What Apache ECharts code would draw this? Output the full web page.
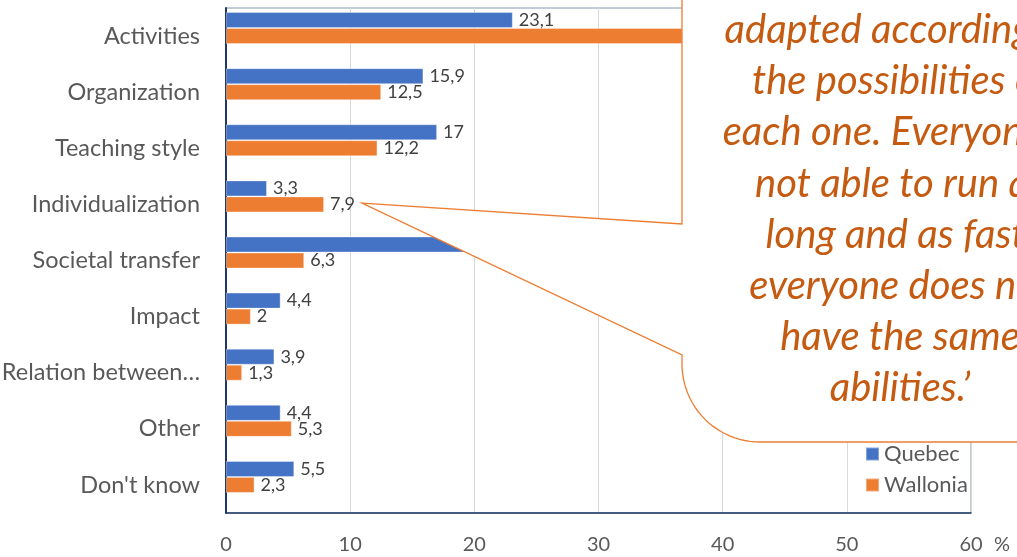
<!DOCTYPE html>
<html>
<head>
<meta charset="utf-8">
<script src="https://cdn.jsdelivr.net/npm/echarts@6/dist/echarts.min.js"></script>
<style>
html,body{margin:0;padding:0;background:#fff;}
#c{width:1017px;height:557px;}
</style>
</head>
<body>
<div id="c"></div>
<script>
const categories = ['Activities','Organization','Teaching style','Individualization','Societal transfer','Impact','Relation between…','Other',"Don't know"];
const quebec = [23.1, 15.9, 17, 3.3, 24.0, 4.4, 3.9, 4.4, 5.5];
const wallonia = [40.0, 12.5, 12.2, 7.9, 6.3, 2, 1.3, 5.3, 2.3];
const blank = [null, null, null, null, null, null, null, null, null];
const xTicks = {min: 0, max: 60, interval: 10};
const calloutLines = ['adapted according to','the possibilities of','each one. Everyone is','not able to run as','long and as fast,','everyone does not','have the same','abilities.\u2019'];

const FONT = 'Lato';
const chart = echarts.init(document.getElementById('c'), null, {renderer:'canvas'});

// callout outline (decorative shape)
const pts = [[682,-20],[682,224],[362,203],[682,355],[682,364]];
const cx = 760, cy = 364, r = 78;
for (let i = 0; i <= 24; i++) {
  const a = Math.PI - (Math.PI/2) * (i/24);
  pts.push([cx + r*Math.cos(a), cy + r*Math.sin(a)]);
}
pts.push([1040,442],[1040,-20]);

const textEls = calloutLines.map((t, i) => ({
  type: 'text', z: 101,
  x: 900, y: 30 + 51.2*i,
  style: {text: t, fill: '#C55A11', font: 'italic 40px ' + FONT, align: 'center', verticalAlign: 'middle'}
}));

const lbl = {show: true, position: 'right', distance: 6, color: '#404040', fontSize: 18, fontFamily: FONT,
  formatter: p => String(p.value).replace('.', ',')};

chart.setOption({
  animation: false,
  textStyle: {fontFamily: FONT},
  grid: {left: 226, right: 46, top: 8, bottom: 44, show: true, borderColor: '#8497B0', borderWidth: 1,
    containLabel: false, outerBoundsMode: 'none'},
  legend: {
    data: ['Quebec','Wallonia'], orient: 'vertical', left: 860, top: 438,
    itemWidth: 13, itemHeight: 13, itemGap: 9, icon: 'rect',
    textStyle: {fontSize: 22, color: '#595959', fontFamily: FONT}
  },
  xAxis: {
    type: 'value', min: xTicks.min, max: xTicks.max, interval: xTicks.interval,
    axisLine: {show: true, lineStyle: {color: '#1F3864', width: 1.5}},
    axisTick: {show: false},
    splitLine: {show: true, lineStyle: {color: '#D9D9D9', width: 1}},
    axisLabel: {color: '#595959', fontSize: 20, margin: 22, fontFamily: FONT}
  },
  yAxis: {
    type: 'category', data: categories, inverse: true,
    axisLine: {show: true, lineStyle: {color: '#1F3864', width: 2}},
    axisTick: {show: false},
    axisLabel: {color: '#595959', fontSize: 23.5, margin: 26, fontFamily: FONT}
  },
  series: [
    {name: 'Quebec', type: 'bar', data: quebec, barWidth: 16, barGap: '0%',
      itemStyle: {color: '#4472C4', borderColor: 'rgba(255,255,255,0.35)', borderWidth: 1}, label: lbl},
    {name: 'Wallonia', type: 'bar', data: wallonia, barWidth: 16, barGap: '0%',
      itemStyle: {color: '#ED7D31', borderColor: 'rgba(255,255,255,0.35)', borderWidth: 1}, label: lbl},
    {name: 'blank', type: 'bar', data: blank, barWidth: 16, barGap: '0%', itemStyle: {color: 'transparent'}}
  ],
  graphic: [
    {type: 'text', z: 50, x: 994, y: 545,
      style: {text: '%', fill: '#595959', font: '20px ' + FONT, align: 'left', verticalAlign: 'middle'}},
    {type: 'polygon', z: 100, shape: {points: pts},
      style: {fill: '#FFFFFF', stroke: '#ED7D31', lineWidth: 1.3}},
    ...textEls
  ]
});
</script>
</body>
</html>
